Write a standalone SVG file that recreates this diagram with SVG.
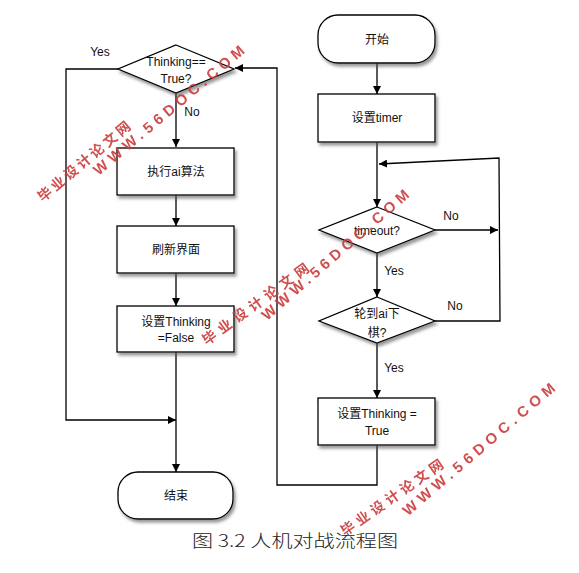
<svg xmlns="http://www.w3.org/2000/svg" width="579" height="573" viewBox="0 0 579 573">
<defs>
<filter id="sh" x="-10%" y="-10%" width="130%" height="140%">
<feDropShadow dx="2" dy="3" stdDeviation="1.5" flood-color="#555" flood-opacity="0.6"/>
</filter>
<marker id="ah" viewBox="0 0 10 10" refX="10" refY="5" markerWidth="8" markerHeight="8" markerUnits="userSpaceOnUse" orient="auto">
<path d="M0,0 L10,5 L0,10 Z" fill="#000"/>
</marker>
</defs>
<style>
.shape{fill:#fff;stroke:#000;stroke-width:1.3;filter:url(#sh)}
.t{font-family:"Liberation Sans","Noto Sans CJK SC",sans-serif;font-size:12px;fill:#111;text-anchor:middle}
.lb{font-family:"Liberation Sans","Noto Sans CJK SC",sans-serif;font-size:12px;fill:#111;text-anchor:middle}
.ca{fill:none;stroke:#000;stroke-width:1.3;marker-end:url(#ah)}
.cap{font-family:"Noto Sans CJK SC",sans-serif;font-size:17px;font-weight:300;fill:#222}
.wm{font-family:"Liberation Sans","Noto Sans CJK SC",sans-serif;font-weight:bold;fill:#cc3b3b;text-anchor:middle;dominant-baseline:central;opacity:0.9}
.wc{font-size:14px}
.ww{font-size:15px}
</style>
<rect width="579" height="573" fill="#fff"/>

<g id="connectors">
<path class="ca" d="M176,93 L176,147"/>
<path class="ca" d="M176,195 L176,226"/>
<path class="ca" d="M176,273 L176,306"/>
<path class="ca" d="M176,352 L176,472"/>
<path class="ca" d="M118,69 L66,69 L66,420 L176,420"/>
<path class="ca" d="M377,63 L377,94"/>
<path class="ca" d="M377,142 L377,207"/>
<path class="ca" d="M435,230 L498,230"/>
<path class="ca" d="M377,253 L377,297"/>
<path class="ca" d="M435,321 L500,321 L499,158 L379,164"/>
<path class="ca" d="M377,343 L377,398"/>
<path class="ca" d="M377,445 L377,485 L277,485 L277,68 L235,68"/>
</g>

<g id="decision1">
<polygon class="shape" points="176,45 234,69 176,93 118,69"/>
<text class="t" x="176" y="66">Thinking==</text>
<text class="t" x="176" y="83">True?</text>
</g>
<g id="exec_ai">
<rect class="shape" x="117" y="148" width="117" height="47"/>
<text class="t" x="176" y="176">执行ai算法</text>
</g>
<g id="refresh">
<rect class="shape" x="117" y="226" width="117" height="47"/>
<text class="t" x="176" y="254">刷新界面</text>
</g>
<g id="set_false">
<rect class="shape" x="117" y="306" width="117" height="46"/>
<text class="t" x="176" y="326">设置Thinking</text>
<text class="t" x="176" y="342">=False</text>
</g>
<g id="end">
<rect class="shape" x="118" y="472" width="115" height="47" rx="20" ry="20"/>
<text class="t" x="176" y="500">结束</text>
</g>
<g id="start">
<rect class="shape" x="318" y="15" width="117" height="48" rx="20" ry="20"/>
<text class="t" x="377" y="44">开始</text>
</g>
<g id="set_timer">
<rect class="shape" x="318" y="94" width="117" height="48"/>
<text class="t" x="377" y="122">设置timer</text>
</g>
<g id="timeout">
<polygon class="shape" points="377,207 435,230 377,253 319,230"/>
<text class="t" x="377" y="235">timeout?</text>
</g>
<g id="ai_turn">
<polygon class="shape" points="377,297 435,321 377,343 319,321"/>
<text class="t" x="377" y="318">轮到ai下</text>
<text class="t" x="377" y="337">棋?</text>
</g>
<g id="set_true">
<rect class="shape" x="318" y="398" width="117" height="47"/>
<text class="t" x="377" y="418">设置Thinking =</text>
<text class="t" x="377" y="435">True</text>
</g>

<g id="labels">
<text class="lb" x="100" y="56">Yes</text>
<text class="lb" x="192" y="116">No</text>
<text class="lb" x="451" y="220">No</text>
<text class="lb" x="394" y="275">Yes</text>
<text class="lb" x="455" y="310">No</text>
<text class="lb" x="394" y="372">Yes</text>
</g>

<text class="cap" x="192" y="547" textLength="206" lengthAdjust="spacingAndGlyphs">图 3.2 人机对战流程图</text>

<g id="watermarks">
<text class="wm wc" transform="translate(84,161.5) rotate(-40)" textLength="116">毕业设计论文网</text>
<text class="wm ww" transform="translate(168.5,110) rotate(-40)" textLength="192">WWW.56DOC.COM</text>
<text class="wm wc" transform="translate(255.5,304) rotate(-36)" textLength="128">毕业设计论文网</text>
<text class="wm ww" transform="translate(335,254.5) rotate(-41)" textLength="190">WWW.56DOC.COM</text>
<text class="wm wc" transform="translate(392,497.5) rotate(-35)" textLength="122">毕业设计论文网</text>
<text class="wm ww" transform="translate(478.5,449) rotate(-40.5)" textLength="195">WWW.56DOC.COM</text>
</g>
</svg>
